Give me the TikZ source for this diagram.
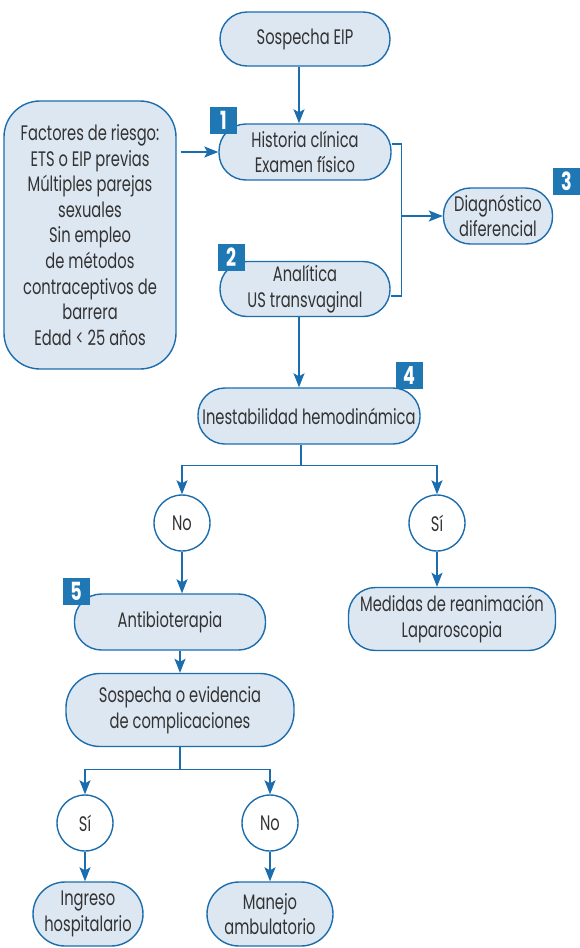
\documentclass[tikz,border=0pt]{standalone}
\usepackage{fontspec}
\setmainfont{Poppins}[FakeStretch=0.70]
\usetikzlibrary{arrows.meta, positioning, calc}
\definecolor{bfill}{HTML}{DDE7F2}
\definecolor{bline}{HTML}{1B6DAD}
\definecolor{bbadge}{HTML}{1F77B4}
\definecolor{btext}{HTML}{333333}
\tikzset{
  pill/.style={draw=bline, fill=bfill, line width=1.4pt, rounded corners=27pt, align=center,
    inner sep=0pt, text=btext, font=\fontsize{21}{25.6}\selectfont},
  circ/.style={circle, draw=bline, fill=white, line width=1.4pt, minimum size=56pt, inner sep=0pt,
    text=btext, font=\fontsize{21}{25.6}\selectfont},
  badge/.style={fill=bbadge, minimum size=27pt, inner sep=0pt, text=white,
    font=\fontsize{25}{25}\selectfont\bfseries},
  conn/.style={draw=bline, line width=1.4pt},
  arr/.style={conn, -{Stealth[length=14pt, width=11pt, inset=3pt]}}
}
\begin{document}
\begin{tikzpicture}[x=1pt, y=-1pt]
	\useasboundingbox (0,0) rectangle (580,948);
	% upper part
	\node[pill, minimum width=170pt, minimum height=54pt] (sosp) at (305,39) {Sospecha EIP};
	\node[pill, minimum width=172pt, minimum height=56pt] (hist) at (305,152) {Historia clínica\\Examen físico};
	\node[pill, minimum width=170pt, minimum height=55pt] (anal) at (305,289) {Analítica\\US transvaginal};
	\node[pill, minimum width=172pt, minimum height=268pt, rounded corners=36pt] (fact) at (90,235)
		{Factores de riesgo:\\ETS o EIP previas\\Múltiples parejas\\sexuales\\Sin empleo\\de métodos\\contraceptivos de\\barrera\\Edad < 25 años};
	\node[pill, minimum width=109pt, minimum height=56pt] (diag) at (498,216) {Diagnóstico\\diferencial};
	\node[pill, minimum width=222pt, minimum height=56pt] (inest) at (309,416) {Inestabilidad hemodinámica};
	% decision branches
	\node[circ] (no1) at (182,523) {No};
	\node[circ] (si1) at (437,523) {Sí};
	\node[pill, minimum width=191pt, minimum height=56pt] (anti) at (170,622) {Antibioterapia};
	\node[pill, minimum width=207pt, minimum height=63pt] (medi) at (452,619) {Medidas de reanimación\\Laparoscopia};
	\node[pill, minimum width=228pt, minimum height=73pt, rounded corners=34pt] (comp) at (180,710) {Sospecha o evidencia\\de complicaciones};
	\node[circ] (si2) at (85,823) {Sí};
	\node[circ] (no2) at (270,823) {No};
	\node[pill, minimum width=110pt, minimum height=64pt, rounded corners=32pt] (ingr) at (88,914) {Ingreso\\hospitalario};
	\node[pill, minimum width=126pt, minimum height=64pt, rounded corners=32pt] (manj) at (270,914) {Manejo\\ambulatorio};
	% number badges
	\node[badge] (b1) at (223.5,120.5) {1};
	\node[badge] (b2) at (231,257) {2};
	\node[badge] (b3) at (566.5,181.5) {3};
	\node[badge] (b4) at (409,375.5) {4};
	\node[badge] (b5) at (76,591.5) {5};
	% connectors
	\draw[arr] ([xshift=-6pt]sosp.south) -- ([xshift=-6pt]hist.north);
	\draw[arr, shorten <=4pt] (fact.east |- hist) -- (hist.west);
	\draw[conn] ([yshift=8pt]hist.east) -- ++(10,0) coordinate (br1) |- ([yshift=-7pt]anal.east);
	\coordinate (br2) at (br1 |- diag);
	\draw[arr] (br2) -- (diag.west);
	\draw[arr] ([xshift=-6pt]anal.south) -- ([xshift=-10pt]inest.north);
	\draw[conn] ([xshift=-8pt]inest.south) -- ++(0,21) coordinate (sp1);
	\draw[arr] (sp1) -| (no1.north);
	\draw[arr] (sp1) -| (si1.north);
	\draw[arr] (no1.south) -- (no1.south |- anti.north);
	\draw[arr] (si1.south) -- (si1.south |- medi.north);
	\draw[arr] (anti.south -| comp) -- (comp.north);
	\draw[conn] (comp.south) -- ++(0,22) coordinate (sp2);
	\draw[arr] (sp2) -| (si2.north);
	\draw[arr] (sp2) -| (no2.north);
	\draw[arr] (si2.south) -- (si2.south |- ingr.north);
	\draw[arr] (no2.south) -- (no2.south |- manj.north);
\end{tikzpicture}
\end{document}
